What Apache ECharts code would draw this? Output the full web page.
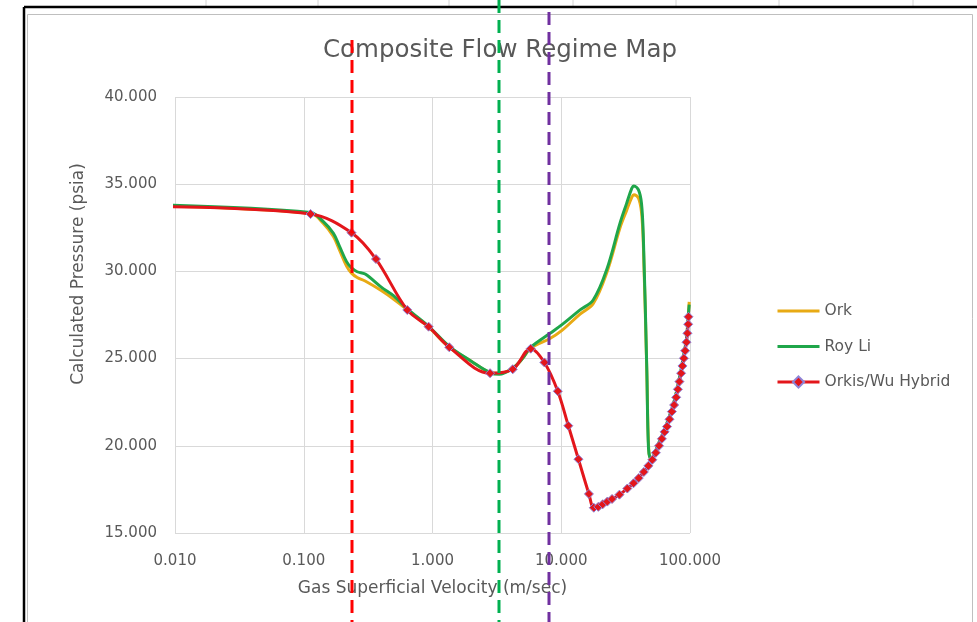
<!DOCTYPE html>
<html>
<head>
<meta charset="utf-8">
<script src="https://cdn.jsdelivr.net/npm/echarts@6.0.0/dist/echarts.min.js"></script>
<style>
html, body { margin: 0; padding: 0; background: #fff; }
#main { width: 977px; height: 622px; }
</style>
</head>
<body>
<div id="main"></div>
<script>
// velocity (m/sec) and pressure (psia)
var orkX = [0.005, 0.113, 0.142, 0.17, 0.19, 0.215, 0.235, 0.26, 0.3, 0.4, 0.5, 0.637, 0.933, 1.35, 2.0, 2.8, 3.3, 4.2, 5.0, 5.79,
    8.18, 10.07, 14.0, 17.7, 22.5, 28.6, 32.2, 35.3, 36.7, 39.8, 42.0, 43.4, 46.2, 47.8,
    49.7, 57.5, 66.3, 75.3, 82.8, 89.6, 93.9, 97.3, 98.6];
var orkY = [33.78, 33.33, 32.75, 32.0, 31.2, 30.3, 29.9, 29.65, 29.45, 28.9, 28.4, 27.8, 26.8, 25.65, 24.85, 24.2, 24.15, 24.45, 25.0, 25.6,
    26.15, 26.6, 27.55, 28.15, 29.9, 32.5, 33.5, 34.25, 34.4, 34.2, 33.4, 31.6, 24.2, 19.8,
    19.25, 20.2, 21.3, 22.55, 23.9, 25.25, 26.15, 27.6, 28.25];

var royLiX = [0.005, 0.113, 0.142, 0.17, 0.19, 0.215, 0.235, 0.26, 0.3, 0.4, 0.5, 0.637, 0.933, 1.35, 2.0, 2.8, 3.3, 4.2, 5.0, 5.79,
    8.18, 10.07, 14.0, 17.7, 22.5, 28.6, 32.2, 35.3, 36.7, 39.8, 42.0, 43.4, 46.2, 47.6,
    49.7, 57.5, 66.3, 75.3, 82.8, 89.6, 93.9, 97.3, 98.6];
var royLiY = [33.85, 33.38, 32.85, 32.18, 31.42, 30.56, 30.2, 29.98, 29.85, 29.1, 28.6, 27.85, 26.85, 25.7, 24.85, 24.2, 24.1, 24.45, 25.0, 25.65,
    26.45, 26.93, 27.79, 28.36, 30.08, 32.76, 33.9, 34.76, 34.9, 34.67, 33.9, 32.0, 24.35, 19.87,
    19.25, 20.2, 21.3, 22.55, 23.9, 25.25, 26.15, 27.6, 28.1];

var hybridX = [0.005, 0.113, 0.235, 0.364, 0.637, 0.933, 1.35, 2.8, 4.2, 5.79, 7.4, 9.4, 11.35, 13.6, 16.4, 17.9, 19.4, 21.0, 22.8, 24.8,
    28.3, 32.6, 36.4, 40.0, 43.8, 47.5, 51.0, 54.3, 57.5, 60.5, 63.5, 66.3, 69.3, 72.3, 75.3, 78.1, 80.5, 82.8, 85.3, 87.4,
    89.6, 91.7, 93.9, 95.5, 96.8, 97.3];
var hybridY = [33.74, 33.29, 32.22, 30.71, 27.79, 26.83, 25.65, 24.16, 24.39, 25.57, 24.78, 23.13, 21.15, 19.23, 17.24, 16.45, 16.5, 16.65, 16.8, 16.95,
    17.2, 17.55, 17.85, 18.15, 18.5, 18.85, 19.2, 19.6, 20.0, 20.4, 20.8, 21.1, 21.52, 21.96, 22.34, 22.78, 23.24, 23.68, 24.16, 24.58,
    25.02, 25.45, 25.94, 26.45, 26.97, 27.4];

// regime boundaries (dashed lines), m/sec
var boundaryX = [0.237, 3.28, 8.03];
var boundaryColor = ['#FF0000', '#00B050', '#7030A0'];
var boundaryTop = [40, 0, 12];

var fontFam = 'DejaVu Sans';
var grey = '#595959';

function pairs(xs, ys) {
    var out = [];
    for (var i = 0; i < xs.length; i++) out.push([xs[i], ys[i]]);
    return out;
}

var chart = echarts.init(document.getElementById('main'));

var option = {
    animation: false,
    backgroundColor: '#fff',
    title: {
        text: 'Composite Flow Regime Map',
        left: 495,
        top: 33,
        textAlign: 'center',
        textStyle: { fontFamily: fontFam, fontSize: 24.5, fontWeight: 'normal', color: grey }
    },
    grid: { left: 175, right: 287, top: 97, bottom: 89 },
    legend: {
        orient: 'vertical',
        left: 776,
        top: 303,
        padding: 0,
        itemWidth: 42,
        itemHeight: 14,
        itemGap: 19.5,
        textStyle: { fontFamily: fontFam, fontSize: 15.5, color: grey },
        data: [
            { name: 'Ork', itemStyle: { opacity: 0 }, lineStyle: { width: 3 } },
            { name: 'Roy Li', itemStyle: { opacity: 0 }, lineStyle: { width: 3 } },
            { name: 'Orkis/Wu Hybrid', lineStyle: { width: 3 } }
        ]
    },
    xAxis: {
        type: 'log',
        logBase: 10,
        min: 0.01,
        max: 100,
        name: 'Gas Superficial Velocity (m/sec)',
        nameLocation: 'middle',
        nameGap: 47,
        nameTextStyle: { fontFamily: fontFam, fontSize: 17, color: grey },
        axisLine: { show: false },
        axisTick: { show: false },
        axisLabel: {
            margin: 21,
            fontFamily: fontFam, fontSize: 15, color: grey,
            formatter: function (v) { return v.toFixed(3); }
        },
        splitLine: { show: true, lineStyle: { color: '#d9d9d9', width: 1 } }
    },
    yAxis: {
        type: 'value',
        min: 15,
        max: 40,
        interval: 5,
        name: 'Calculated Pressure (psia)',
        nameLocation: 'middle',
        nameGap: 88,
        nameTextStyle: { fontFamily: fontFam, fontSize: 17, color: grey, padding: [0, 0, 0, 82] },
        axisLine: { show: false },
        axisTick: { show: false },
        axisLabel: {
            margin: 18,
            fontFamily: fontFam, fontSize: 15, color: grey,
            formatter: function (v) { return v.toFixed(3); }
        },
        splitLine: { lineStyle: { color: '#d9d9d9', width: 1 } }
    },
    series: [{
        name: 'Ork',
        type: 'line',
        data: pairs(orkX, orkY),
        smooth: 0.35,
        symbol: 'none',
        color: '#E8AA14',
        lineStyle: { width: 3, color: '#E8AA14' }
    }, {
        name: 'Roy Li',
        type: 'line',
        data: pairs(royLiX, royLiY),
        smooth: 0.35,
        symbol: 'none',
        color: '#1FA64A',
        lineStyle: { width: 3, color: '#1FA64A' }
    }, {
        name: 'Orkis/Wu Hybrid',
        type: 'line',
        data: pairs(hybridX, hybridY),
        smooth: 0.35,
        symbol: 'diamond',
        symbolSize: 9,
        color: '#E3161B',
        itemStyle: { color: '#E3161B', borderColor: '#8E84D8', borderWidth: 1 },
        lineStyle: { width: 3, color: '#E3161B' }
    }]
};

chart.setOption(option);

// sheet frame and the regime boundary lines, placed from the axis scale
var g = [];
var sheetCols = [206, 318, 449, 573, 676, 779, 913];
sheetCols.forEach(function (x) {
    g.push({ type: 'line', silent: true, shape: { x1: x, y1: 0, x2: x, y2: 6 }, style: { stroke: '#d4d4d4', lineWidth: 1 } });
});
g.push({ type: 'rect', silent: true, shape: { x: 27.5, y: 14.5, width: 945, height: 700 }, style: { fill: null, stroke: '#bfbfbf', lineWidth: 1 } });
g.push({ type: 'line', silent: true, shape: { x1: 24, y1: 7, x2: 977, y2: 7 }, style: { stroke: '#000', lineWidth: 2.5 } });
g.push({ type: 'line', silent: true, shape: { x1: 24, y1: 7, x2: 24, y2: 622 }, style: { stroke: '#000', lineWidth: 2.5 } });
boundaryX.forEach(function (v, i) {
    var px = Math.round(chart.convertToPixel({ xAxisIndex: 0 }, v));
    g.push({
        type: 'line', silent: true, z: 100,
        shape: { x1: px, y1: boundaryTop[i], x2: px, y2: 622 },
        style: { stroke: boundaryColor[i], lineWidth: 3, lineDash: [13, 7] }
    });
});
chart.setOption({ graphic: g });
</script>
</body>
</html>
